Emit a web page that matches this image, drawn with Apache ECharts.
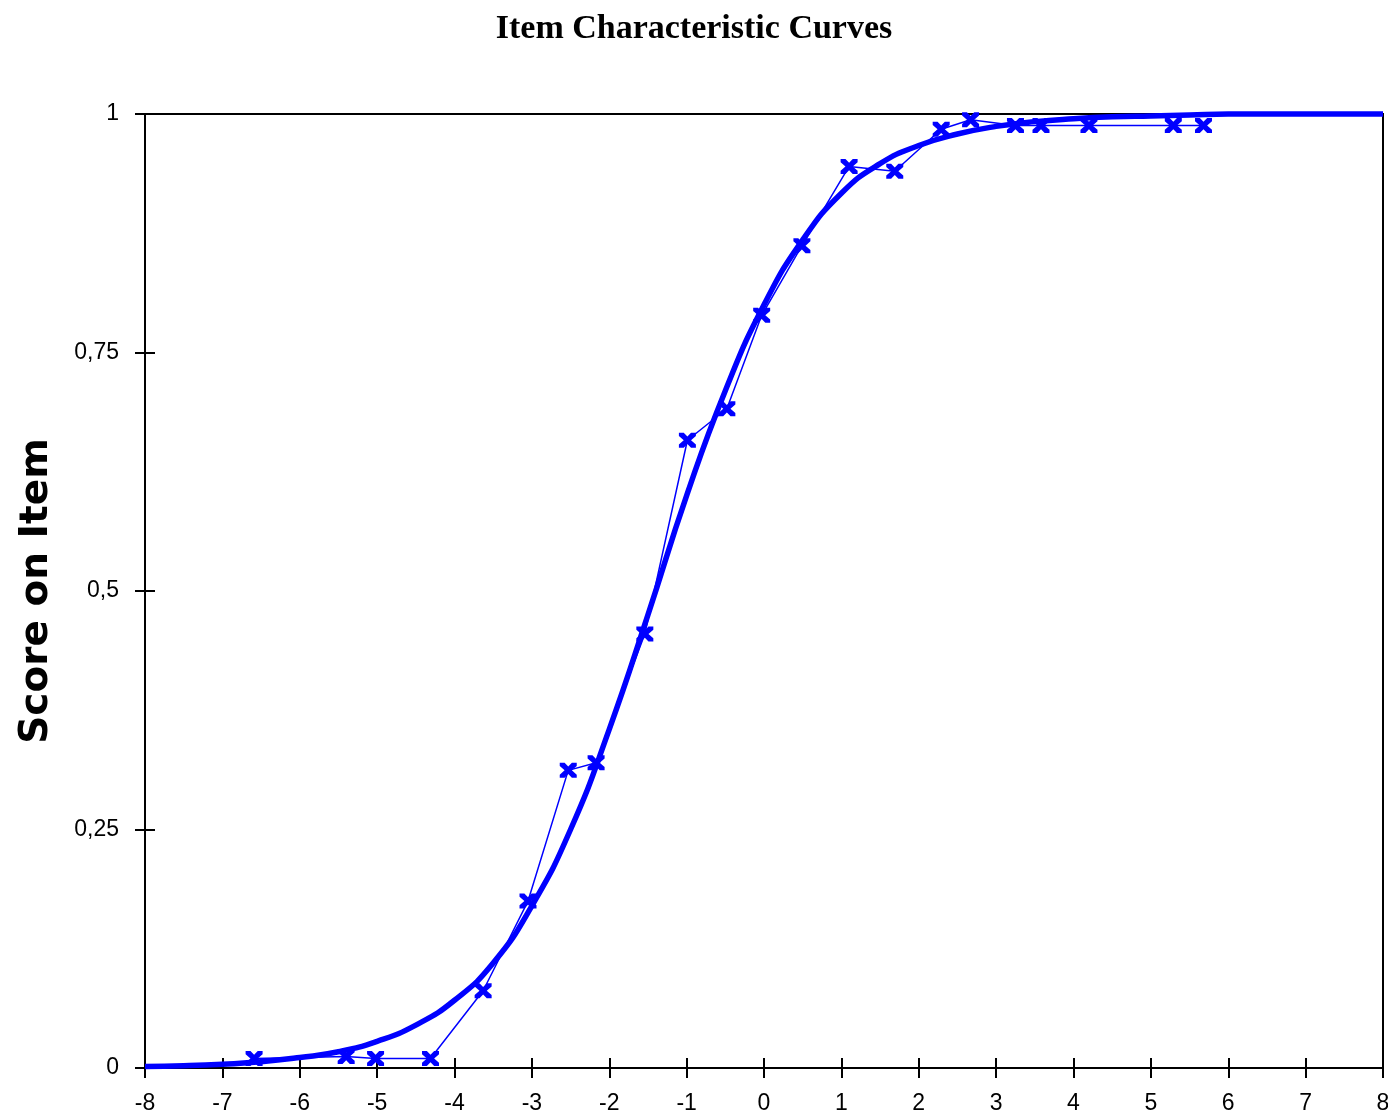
<!DOCTYPE html>
<html>
<head>
<meta charset="utf-8">
<script src="https://cdn.jsdelivr.net/npm/echarts@6/dist/echarts.min.js"></script>
<style>
html,body{margin:0;padding:0;background:#fff;}
#chart{width:1388px;height:1117px;}
</style>
</head>
<body>
<div id="chart"></div>
<script>
// ---- data ----
var titleText = "Item Characteristic Curves";
var yAxisName = "Score on Item";

// model curve (thick line): ability and expected score
var curveX = [-8,-7.5,-7,-6.5,-6,-5.5,-5,-4.5,-4,-3.5,-3,-2.5,-2,-1.5,-1,-0.5,0,0.5,1,1.5,2,2.5,3,3.5,4,4.5,5,5.5,6,6.5,7,7.5,8];
var curveY = [0.0015,0.0024,0.004,0.0065,0.011,0.017,0.028,0.045,0.071,0.11,0.17,0.25,0.355,0.475,0.60,0.71,0.80,0.868,0.917,0.948,0.967,0.979,0.987,0.992,0.995,0.997,0.998,0.999,1,1,1,1,1];

// observed scores (thin line with x markers)
var obsX = [-6.59,-5.40,-5.02,-4.31,-3.63,-3.05,-2.53,-2.17,-1.54,-0.99,-0.48,-0.03,0.49,1.10,1.69,2.29,2.67,3.25,3.58,4.20,5.29,5.68];
var obsY = [0.010,0.012,0.010,0.010,0.081,0.175,0.312,0.320,0.455,0.658,0.691,0.789,0.862,0.945,0.940,0.984,0.994,0.988,0.988,0.988,0.988,0.988];

// y tick labels
var yTickValues = [0,0.25,0.5,0.75,1];
var yTickLabels = ["0","0,25","0,5","0,75","1"];

function zip(a,b){var r=[];for(var i=0;i<a.length;i++){r.push([a[i],b[i]]);}return r;}

var xMark = 'path://M0,0 L4,0 L7,3.5 L10,0 L14,0 L14,3 L10,7 L14,11 L14,14 L10,14 L7,10.5 L4,14 L0,14 L0,11 L4,7 L0,3 Z';

var chart = echarts.init(document.getElementById('chart'), null, {renderer:'canvas'});
var labelFont = {fontFamily:'Liberation Sans', fontSize:23, color:'#000'};
var gridRect = {left:145, right:5, top:114, bottom:49, containLabel:false, outerBoundsMode:'none'};

chart.setOption({
  animation:false,
  backgroundColor:'#fff',
  title:{
    text:titleText, left:'center', top:7,
    textStyle:{fontFamily:'Liberation Serif', fontWeight:'bold', fontSize:34, color:'#000'}
  },
  grid:[
    Object.assign({show:true, borderColor:'#000', borderWidth:2, backgroundColor:'transparent'}, gridRect),
    Object.assign({show:false}, gridRect)
  ],
  xAxis:[{
    gridIndex:0, type:'value', min:-8, max:8, interval:1, position:'bottom',
    axisLine:{show:true, onZero:false, lineStyle:{color:'#000', width:2}},
    axisTick:{show:true, inside:false, length:10, lineStyle:{color:'#000', width:2}},
    axisLabel:Object.assign({margin:24}, labelFont),
    splitLine:{show:false}
  },{
    gridIndex:1, type:'value', min:-8, max:8, interval:1, position:'bottom',
    axisLine:{show:false, onZero:false},
    axisTick:{show:true, inside:true, length:10, lineStyle:{color:'#000', width:2}},
    axisLabel:{show:false}, splitLine:{show:false}
  }],
  yAxis:[{
    gridIndex:0, type:'value', min:0, max:1, interval:0.25, position:'left',
    name:yAxisName, nameLocation:'middle', nameGap:89,
    nameTextStyle:{fontFamily:'DejaVu Sans', fontWeight:'bold', fontSize:39, color:'#000'},
    axisLine:{show:true, onZero:false, lineStyle:{color:'#000', width:2}},
    axisTick:{show:true, inside:false, length:10, lineStyle:{color:'#000', width:2}},
    axisLabel:Object.assign({margin:26, formatter:function(v){var i=yTickValues.indexOf(v);return i>=0?yTickLabels[i]:String(v).replace('.',',');}}, labelFont),
    splitLine:{show:false}
  },{
    gridIndex:1, type:'value', min:0, max:1, interval:0.25, position:'left',
    axisLine:{show:false, onZero:false},
    axisTick:{show:true, inside:true, length:10, lineStyle:{color:'#000', width:2}},
    axisLabel:{show:false}, splitLine:{show:false}
  }],
  series:[{
    type:'line', xAxisIndex:0, yAxisIndex:0,
    data:zip(curveX,curveY), smooth:true, showSymbol:false, clip:false,
    lineStyle:{color:'#0000ff', width:5.5}, z:2
  },{
    type:'line', xAxisIndex:0, yAxisIndex:0,
    data:zip(obsX,obsY), smooth:false, symbol:xMark, symbolSize:[17,15], showSymbol:true,
    itemStyle:{color:'#0000ff'}, lineStyle:{color:'#0000ff', width:1.5}, z:3
  }]
});
</script>
</body>
</html>
